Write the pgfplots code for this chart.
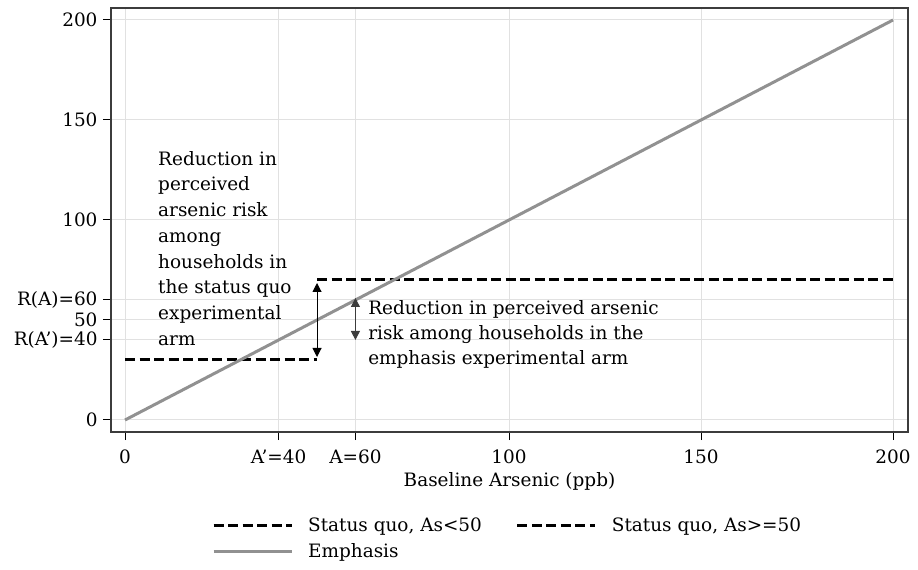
\documentclass[border=0pt]{standalone}
\usepackage{fontspec}
\setmainfont{DejaVu Serif}
\usepackage{pgfplots}
\pgfplotsset{compat=1.18}
\usetikzlibrary{arrows.meta}
\definecolor{emph}{RGB}{145,145,145}
\definecolor{gridc}{RGB}{225,225,225}
\definecolor{axc}{RGB}{60,60,60}
\begin{document}
\begin{tikzpicture}
\path[use as bounding box] (0,0) rectangle (918bp,570bp);
\begin{axis}[
 at={(111bp,138bp)}, anchor=south west,
 scale only axis, width=797bp, height=424bp,
 xmin=-3.65, xmax=203.9, ymin=-6, ymax=206,
 axis line style={axc, line width=1.2bp},
 xtick={0,40,60,100,150,200},
 xticklabels={0, A'=40, A=60, 100, 150, 200},
 ytick={0,40,50,60,100,150,200},
 yticklabels={0, R(A')=40, 50, R(A)=60, 100, 150, 200},
 tick align=outside, xtick pos=bottom, ytick pos=left,
 major tick length=8bp,
 tick style={black, line width=1bp},
 grid=major, major grid style={gridc, line width=1bp},
 ticklabel style={font=\fontsize{18.5}{20}\selectfont},
 xticklabel style={yshift=-6bp},
 yticklabel style={xshift=-2bp},
 xlabel={Baseline Arsenic (ppb)},
 xlabel style={font=\fontsize{18.5}{20}\selectfont, at={(axis description cs:0.5,-0.1176)}, anchor=center},
 legend columns=2,
 legend cell align=left,
 legend style={draw=none, fill=none, at={(axis description cs:0.1267,-0.203)}, anchor=north west,
   font=\fontsize{18.5}{20}\selectfont, inner sep=0pt, nodes={inner sep=0pt}, row sep=10bp,
   /tikz/every even column/.append style={column sep=34bp}},
 legend image code/.code={\draw[#1] (0bp,0bp) -- (78bp,0bp); \path (93bp,0bp);},
]
\addplot[black, line width=3bp, dash pattern=on 10bp off 4.5bp] coordinates {(0,30) (50,30)};
\addlegendentry{Status quo, As<50}
\addplot[black, line width=3bp, dash pattern=on 10bp off 4.5bp] coordinates {(50,70) (200,70)};
\addlegendentry{Status quo, As>=50}
\addplot[emph, line width=3bp] coordinates {(0,0) (200,200)};
\addlegendentry{Emphasis}
\addplot[black, line width=1bp, {Triangle[width=9bp,length=9bp]}-{Triangle[width=9bp,length=9bp]}, forget plot] coordinates {(50,31.5) (50,68.5)};
\addplot[axc, line width=1bp, {Triangle[width=9bp,length=9bp]}-{Triangle[width=9bp,length=9bp]}, forget plot] coordinates {(60,40) (60,61)};
\node[anchor=north west, align=left, inner sep=0pt, font=\fontsize{18.5}{25.8}\selectfont] at (axis cs:8.6,134.5)
 {Reduction in\\perceived\\arsenic risk\\among\\households in\\the status quo\\experimental\\arm};
\node[anchor=north west, align=left, inner sep=0pt, font=\fontsize{18.5}{25}\selectfont] at (axis cs:63.3,60)
 {Reduction in perceived arsenic\\risk among households in the\\emphasis experimental arm};
\end{axis}
\end{tikzpicture}
\end{document}
